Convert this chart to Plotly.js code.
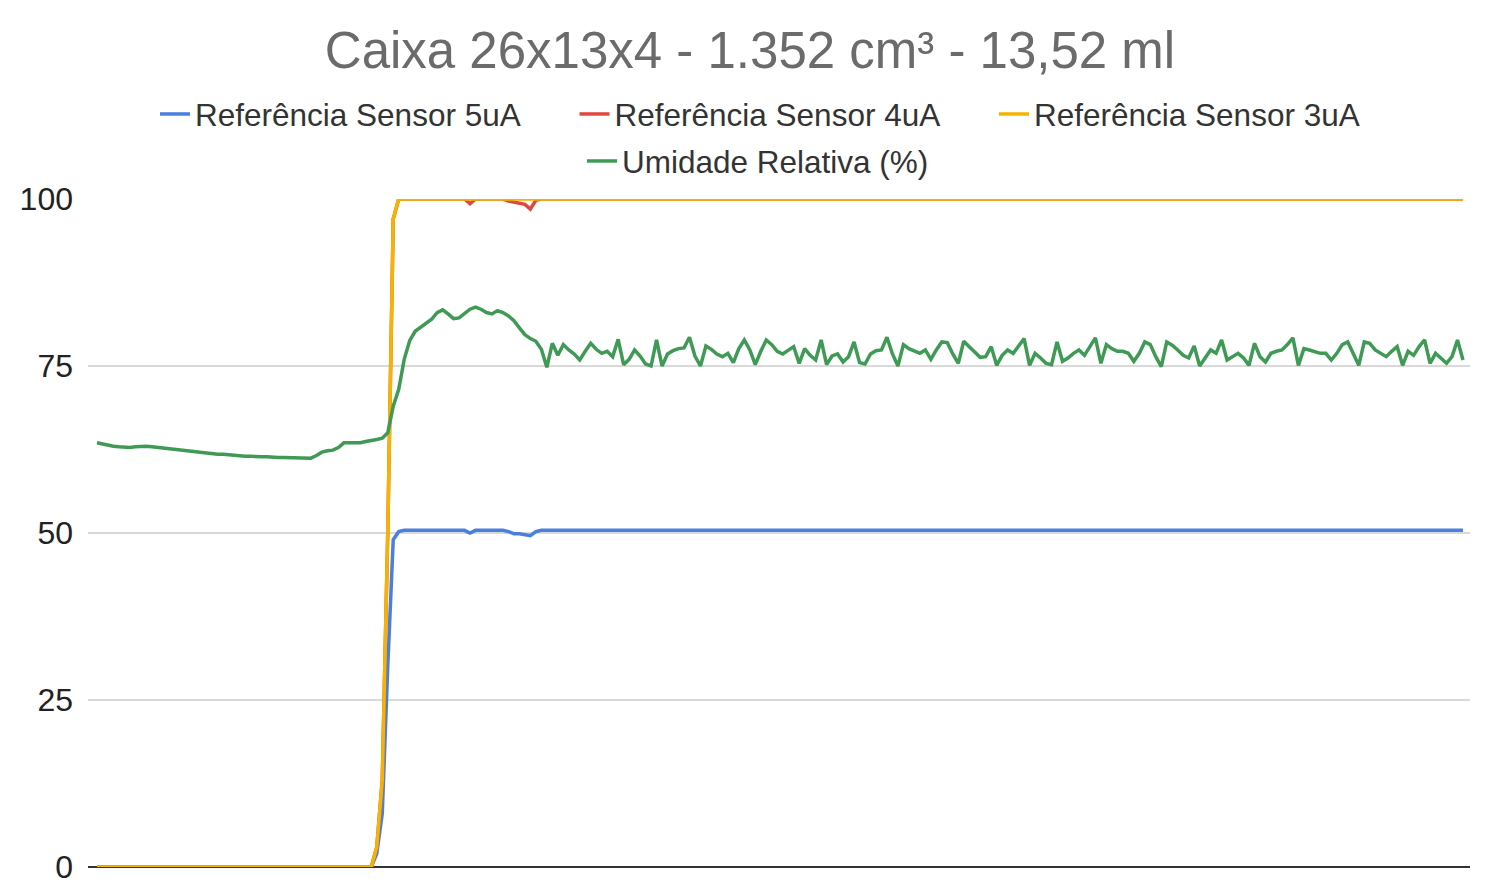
<!DOCTYPE html>
<html>
<head>
<meta charset="utf-8">
<script src="https://cdn.plot.ly/plotly-3.0.1.min.js"></script>
<style>html,body{margin:0;padding:0;background:#fff;}#chart{width:1500px;height:886px;}</style>
</head>
<body>
<div id="chart"></div>
<script>
const seriesNames = ["Referência Sensor 5uA", "Referência Sensor 4uA", "Referência Sensor 3uA", "Umidade Relativa (%)"];
const yTickValues = [0, 25, 50, 75, 100];
const yTickLabels = ["0", "25", "50", "75", "100"];

const sensor5uA = [
0,0,0,0,0,0,0,0,0,0,
0,0,0,0,0,0,0,0,0,0,
0,0,0,0,0,0,0,0,0,0,
0,0,0,0,0,0,0,0,0,0,
0,0,0,0,0,0,0,0,0,0,
0,2,8,30,49,50.2,50.4,50.4,50.4,50.4,
50.4,50.4,50.4,50.4,50.4,50.4,50.4,50.4,50.0,50.4,
50.4,50.4,50.4,50.4,50.4,50.2,49.9,49.9,49.8,49.6,
50.2,50.4,50.4,50.4,50.4,50.4,50.4,50.4,50.4,50.4,
50.4,50.4,50.4,50.4,50.4,50.4,50.4,50.4,50.4,50.4,
50.4,50.4,50.4,50.4,50.4,50.4,50.4,50.4,50.4,50.4,
50.4,50.4,50.4,50.4,50.4,50.4,50.4,50.4,50.4,50.4,
50.4,50.4,50.4,50.4,50.4,50.4,50.4,50.4,50.4,50.4,
50.4,50.4,50.4,50.4,50.4,50.4,50.4,50.4,50.4,50.4,
50.4,50.4,50.4,50.4,50.4,50.4,50.4,50.4,50.4,50.4,
50.4,50.4,50.4,50.4,50.4,50.4,50.4,50.4,50.4,50.4,
50.4,50.4,50.4,50.4,50.4,50.4,50.4,50.4,50.4,50.4,
50.4,50.4,50.4,50.4,50.4,50.4,50.4,50.4,50.4,50.4,
50.4,50.4,50.4,50.4,50.4,50.4,50.4,50.4,50.4,50.4,
50.4,50.4,50.4,50.4,50.4,50.4,50.4,50.4,50.4,50.4,
50.4,50.4,50.4,50.4,50.4,50.4,50.4,50.4,50.4,50.4,
50.4,50.4,50.4,50.4,50.4,50.4,50.4,50.4,50.4,50.4,
50.4,50.4,50.4,50.4,50.4,50.4,50.4,50.4,50.4,50.4,
50.4,50.4,50.4,50.4,50.4,50.4,50.4,50.4,50.4,50.4,
50.4,50.4,50.4,50.4,50.4,50.4,50.4,50.4,50.4,50.4
];

const sensor4uA = [
0,0,0,0,0,0,0,0,0,0,
0,0,0,0,0,0,0,0,0,0,
0,0,0,0,0,0,0,0,0,0,
0,0,0,0,0,0,0,0,0,0,
0,0,0,0,0,0,0,0,0,0,
0,3,13,50,97,100,100,100,100,100,
100,100,100,100,100,100,100,100,99.3,100,
100,100,100,100,100,99.7,99.5,99.4,99.2,98.5,
99.8,100,100,100,100,100,100,100,100,100,
100,100,100,100,100,100,100,100,100,100,
100,100,100,100,100,100,100,100,100,100,
100,100,100,100,100,100,100,100,100,100,
100,100,100,100,100,100,100,100,100,100,
100,100,100,100,100,100,100,100,100,100,
100,100,100,100,100,100,100,100,100,100,
100,100,100,100,100,100,100,100,100,100,
100,100,100,100,100,100,100,100,100,100,
100,100,100,100,100,100,100,100,100,100,
100,100,100,100,100,100,100,100,100,100,
100,100,100,100,100,100,100,100,100,100,
100,100,100,100,100,100,100,100,100,100,
100,100,100,100,100,100,100,100,100,100,
100,100,100,100,100,100,100,100,100,100,
100,100,100,100,100,100,100,100,100,100,
100,100,100,100,100,100,100,100,100,100
];

const sensor3uA = [
0,0,0,0,0,0,0,0,0,0,
0,0,0,0,0,0,0,0,0,0,
0,0,0,0,0,0,0,0,0,0,
0,0,0,0,0,0,0,0,0,0,
0,0,0,0,0,0,0,0,0,0,
0,3,13,50,97,100,100,100,100,100,
100,100,100,100,100,100,100,100,100,100,
100,100,100,100,100,100,100,100,100,100,
100,100,100,100,100,100,100,100,100,100,
100,100,100,100,100,100,100,100,100,100,
100,100,100,100,100,100,100,100,100,100,
100,100,100,100,100,100,100,100,100,100,
100,100,100,100,100,100,100,100,100,100,
100,100,100,100,100,100,100,100,100,100,
100,100,100,100,100,100,100,100,100,100,
100,100,100,100,100,100,100,100,100,100,
100,100,100,100,100,100,100,100,100,100,
100,100,100,100,100,100,100,100,100,100,
100,100,100,100,100,100,100,100,100,100,
100,100,100,100,100,100,100,100,100,100,
100,100,100,100,100,100,100,100,100,100,
100,100,100,100,100,100,100,100,100,100,
100,100,100,100,100,100,100,100,100,100,
100,100,100,100,100,100,100,100,100,100,
100,100,100,100,100,100,100,100,100,100
];

const humidity = [
63.5,63.3,63.1,63.0,62.9,62.8,62.8,62.9,63.0,63.0,
62.9,62.8,62.7,62.6,62.5,62.4,62.3,62.2,62.1,62.1,
62.0,61.9,61.8,61.8,61.7,61.6,61.6,61.5,61.5,61.4,
61.4,61.4,61.3,61.3,61.3,61.3,61.3,61.2,61.2,61.2,
61.6,62.1,62.3,62.4,62.8,63.5,63.5,63.5,63.5,63.7,
63.8,64.0,64.2,65.0,69.0,71.5,76.0,78.8,80.2,80.8,
81.3,82.0,83.0,83.4,82.8,82.1,82.2,82.9,83.5,83.8,
83.5,83.0,82.8,83.3,83.0,82.5,81.8,80.7,79.7,79.1,
78.7,77.5,74.8,78.4,76.6,78.2,77.4,76.8,75.9,77.2,
78.4,77.5,76.9,77.2,76.4,79.0,75.2,76.0,77.4,76.5,
75.3,75.0,78.9,75.0,76.8,77.3,77.6,77.7,79.3,76.5,
75.0,78.0,77.5,76.8,76.4,76.9,75.5,77.6,78.9,77.4,
75.2,77.2,78.9,78.2,77.2,76.8,77.4,77.9,75.4,77.6,
76.6,75.9,78.9,75.2,76.5,76.8,75.6,76.4,78.6,75.5,
75.3,76.8,77.3,77.4,79.3,76.8,75.0,78.2,77.6,77.3,
76.9,77.4,76.0,77.4,78.6,78.5,76.8,75.4,78.7,77.9,
77.1,76.3,76.4,77.9,75.1,76.6,77.4,76.9,78.0,79.1,
75.1,76.9,76.2,75.4,75.2,78.6,75.7,76.2,76.9,77.4,
76.6,78.0,79.2,75.4,78.2,77.6,77.2,77.2,76.9,75.7,
76.9,78.6,78.2,76.4,74.9,78.6,78.1,77.4,76.6,76.2,
78.0,75.0,76.2,77.4,76.9,78.9,75.9,76.4,76.9,76.2,
75.1,78.4,76.4,75.6,76.9,77.2,77.4,78.2,79.2,75.1,
77.6,77.4,77.2,76.9,76.9,75.9,76.9,78.2,78.6,76.9,
75.1,78.6,78.4,77.4,76.9,76.4,77.2,77.9,75.1,77.2,
76.6,77.9,78.9,75.4,76.9,76.2,75.4,76.4,78.9,75.9
];

const colors = ["#4a7fe0", "#e0483c", "#f4b400", "#3f9a55"];
const seriesValues = [sensor5uA, sensor4uA, sensor3uA, humidity];

const traces = seriesValues.map((vals, k) => ({
  type: "scatter",
  mode: "lines",
  name: seriesNames[k],
  y: vals,
  line: { color: colors[k], width: 3.5 },
  legend: k === 3 ? "legend2" : "legend",
  hoverinfo: "skip"
}));

const fam = "'Liberation Sans', Arial, sans-serif";
const legendFont = { family: fam, size: 31.5, color: "#333333" };

const layout = {
  width: 1500,
  height: 886,
  paper_bgcolor: "#ffffff",
  plot_bgcolor: "#ffffff",
  margin: { l: 88, r: 30, t: 199, b: 19, pad: 0 },
  font: { family: fam, color: "#333333" },
  title: {
    text: "Caixa 26x13x4 - 1.352 cm³ - 13,52 ml",
    font: { family: fam, size: 51, color: "#6b6b6b" },
    xref: "container", x: 0.5, xanchor: "center",
    yref: "container", y: 1 - 50 / 886, yanchor: "middle"
  },
  showlegend: true,
  legend: {
    orientation: "h",
    xref: "container", x: 155 / 1500, xanchor: "left",
    yref: "container", y: 1 - 114 / 886, yanchor: "middle",
    entrywidth: 374.5, entrywidthmode: "pixels",
    font: legendFont,
    bgcolor: "rgba(0,0,0,0)",
    itemclick: false, itemdoubleclick: false
  },
  legend2: {
    orientation: "h",
    xref: "container", x: 582 / 1500, xanchor: "left",
    yref: "container", y: 1 - 161 / 886, yanchor: "middle",
    font: legendFont,
    bgcolor: "rgba(0,0,0,0)",
    itemclick: false, itemdoubleclick: false
  },
  xaxis: {
    range: [-1.64, 250.28],
    showgrid: false, zeroline: false, showticklabels: false, ticks: "",
    showline: false, fixedrange: true
  },
  yaxis: {
    range: [0, 100],
    tickvals: yTickValues,
    ticktext: yTickLabels,
    ticks: "",
    ticklabelstandoff: 14,
    tickfont: { family: fam, size: 32, color: "#222222" },
    showgrid: true, gridcolor: "#d9d9d9", gridwidth: 2,
    zeroline: true, zerolinecolor: "#333333", zerolinewidth: 2,
    showline: false, fixedrange: true
  }
};

Plotly.newPlot("chart", traces, layout, { displayModeBar: false, staticPlot: true });
</script>
</body>
</html>
